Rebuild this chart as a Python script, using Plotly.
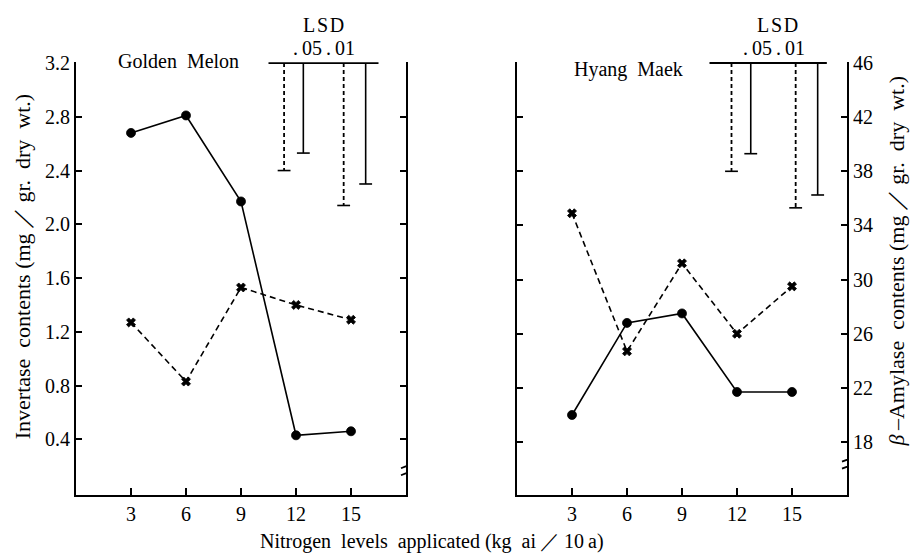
import plotly.graph_objects as go

# ---- data ----
nitrogen = [3, 6, 9, 12, 15]
gm_solid = [2.68, 2.81, 2.17, 0.43, 0.46]      # Golden Melon, solid line (left axis units)
gm_dashed = [1.27, 0.83, 1.53, 1.40, 1.29]     # Golden Melon, dashed line
hm_solid = [20.0, 26.8, 27.5, 21.7, 21.7]      # Hyang Maek, solid line (right axis units)
hm_dashed = [34.9, 24.7, 31.2, 26.0, 29.5]     # Hyang Maek, dashed line

left_ticks = [0.4, 0.8, 1.2, 1.6, 2.0, 2.4, 2.8, 3.2]
left_ticklabels = ["0.4", "0.8", "1.2", "1.6", "2.0", "2.4", "2.8", "3.2"]
right_ticks = [18, 22, 26, 30, 34, 38, 42, 46]
right_ticklabels = ["18", "22", "26", "30", "34", "38", "42", "46"]

# LSD bars: x position, lower end, style
gm_lsd_x = [11.35, 12.4, 14.6, 15.8]
gm_lsd_low = [2.40, 2.53, 2.14, 2.30]
gm_lsd_top = 3.2
gm_lsd_span = [10.5, 16.5]
hm_lsd_x = [11.7, 12.75, 15.2, 16.4]
hm_lsd_low = [38.0, 39.3, 35.3, 36.25]
hm_lsd_top = 46
hm_lsd_span = [10.5, 16.9]
lsd_dash = ["4px,3px", "solid", "4px,3px", "solid"]

FONT = "Liberation Serif, Times New Roman, DejaVu Serif, serif"
BLACK = "black"

fig = go.Figure()

def series(x, y, xa, ya, dash, symbol, size):
    fig.add_trace(go.Scatter(
        x=x, y=y, xaxis=xa, yaxis=ya, mode="lines+markers",
        line=dict(color=BLACK, width=1.6, dash=dash),
        marker=dict(symbol=symbol, size=size, color=BLACK,
                    line=dict(color=BLACK, width=0.8)),
        cliponaxis=False, showlegend=False, hoverinfo="x+y"))

series(nitrogen, gm_dashed, "x", "y", "6px,4px", "x", 8)
series(nitrogen, gm_solid, "x", "y", "solid", "circle", 9)
series(nitrogen, hm_dashed, "x2", "y2", "6px,4px", "x", 8)
series(nitrogen, hm_solid, "x2", "y2", "solid", "circle", 9)

def lsd(xs, lows, top, span, xa, ya, cap):
    fig.add_trace(go.Scatter(x=span, y=[top, top], xaxis=xa, yaxis=ya, mode="lines",
                             line=dict(color=BLACK, width=1.8), cliponaxis=False,
                             showlegend=False, hoverinfo="skip"))
    for xv, lo, d in zip(xs, lows, lsd_dash):
        fig.add_trace(go.Scatter(x=[xv, xv], y=[top, lo], xaxis=xa, yaxis=ya, mode="lines",
                                 line=dict(color=BLACK, width=1.6 if d == "solid" else 1.8, dash=d),
                                 cliponaxis=False, showlegend=False, hoverinfo="skip"))
        fig.add_trace(go.Scatter(x=[xv - cap, xv + cap], y=[lo, lo], xaxis=xa, yaxis=ya, mode="lines",
                                 line=dict(color=BLACK, width=1.6), cliponaxis=False,
                                 showlegend=False, hoverinfo="skip"))

lsd(gm_lsd_x, gm_lsd_low, gm_lsd_top, gm_lsd_span, "x", "y", 0.35)
lsd(hm_lsd_x, hm_lsd_low, hm_lsd_top, hm_lsd_span, "x2", "y2", 0.35)

W, H = 913, 556
def px_x(p): return p / W
def px_y(p): return (H - p) / H

ydom = [px_y(494), px_y(53)]
common_x = dict(range=[0, 18], tickvals=nitrogen, ticktext=[str(v) for v in nitrogen],
                showline=True, linecolor=BLACK, linewidth=1.8, ticks="inside", ticklen=7,
                tickwidth=1.5, tickcolor=BLACK, showgrid=False, zeroline=False,
                tickfont=dict(family=FONT, size=20, color=BLACK))
common_y = dict(showline=True, linecolor=BLACK, linewidth=1.8, ticks="inside", ticklen=6,
                tickwidth=1.5, tickcolor=BLACK, showgrid=False, zeroline=False,
                tickfont=dict(family=FONT, size=20, color=BLACK))

left_range = [-0.015, 3.2 + 0.0073]
right_range = [14.08, 46.07]

fig.update_layout(
    width=W, height=H, margin=dict(l=0, r=0, t=0, b=0),
    paper_bgcolor="white", plot_bgcolor="white",
    font=dict(family=FONT, color=BLACK),
    xaxis=dict(domain=[px_x(76), px_x(406)], anchor="y", **common_x),
    xaxis2=dict(domain=[px_x(517), px_x(847)], anchor="y2", **common_x),
    yaxis=dict(domain=ydom, anchor="x", range=left_range, tickvals=left_ticks,
               ticktext=left_ticklabels, side="left", **common_y),
    yaxis3=dict(domain=ydom, anchor="x", overlaying="y", range=left_range, tickvals=left_ticks,
                side="right", showticklabels=False, **common_y),
    yaxis2=dict(domain=ydom, anchor="x2", range=right_range, tickvals=right_ticks,
                ticktext=right_ticklabels, side="right", **common_y),
    yaxis4=dict(domain=ydom, anchor="x2", overlaying="y2", range=right_range, tickvals=right_ticks,
                side="left", showticklabels=False, **common_y),
)

# dummy traces so the overlay axes render
fig.add_trace(go.Scatter(x=[None], y=[None], xaxis="x", yaxis="y3", showlegend=False))
fig.add_trace(go.Scatter(x=[None], y=[None], xaxis="x2", yaxis="y4", showlegend=False))

def a(text, x, y, xref, yref, size, angle=0):
    return dict(text=text, x=x, y=y, xref=xref, yref=yref, showarrow=False,
                xanchor="center", yanchor="middle", textangle=angle,
                font=dict(family=FONT, size=size, color=BLACK))

SP = "\u00a0\u00a0"
ann = []
ann.append(a("Golden" + SP + "Melon", 5.6, px_y(52), "x", "paper", 20))
ann.append(a("Hyang" + SP + "Maek", 6.1, px_y(61), "x2", "paper", 20))
for xa, xc1, xc2 in [("x", 13.5, 13.5), ("x2", 14.2, 14.0)]:
    ann.append(a("L\u200aS\u200aD", xc1, px_y(15), xa, "paper", 20))
    ann.append(a(".\u200905\u2009.\u200901", xc2, px_y(39), xa, "paper", 20))
ann.append(a("Invertase" + SP + "contents\u00a0(mg\u2009／\u2009gr." + SP + "dry" + SP + "wt.)",
             px_x(22), px_y(262), "paper", "paper", 22, -90))
ann.append(a("<i>β</i>\u2009\u2013Amylase" + SP + "contents\u00a0(mg\u2009／\u2009gr." + SP + "dry" + SP + "wt.)",
             px_x(896), px_y(256), "paper", "paper", 22, -90))
ann.append(a("Nitrogen" + SP + "levels" + SP + "applicated\u00a0(kg" + SP + "ai\u2009／\u200910\u2009a)",
             px_x(432), px_y(541), "paper", "paper", 20))
fig.update_layout(annotations=ann)

# axis break marks on the right-hand axes
for xa, ya, yv in [("x", "y", 0.17), ("x2", "y2", 16.4)]:
    fig.add_shape(type="path", xref=xa, yref=ya, xsizemode="pixel", ysizemode="pixel",
                  xanchor=18, yanchor=yv, path="M-5,2 L5,6 M-5,-5 L5,-1",
                  line=dict(color=BLACK, width=1.8))

fig.write_html("out.html")
